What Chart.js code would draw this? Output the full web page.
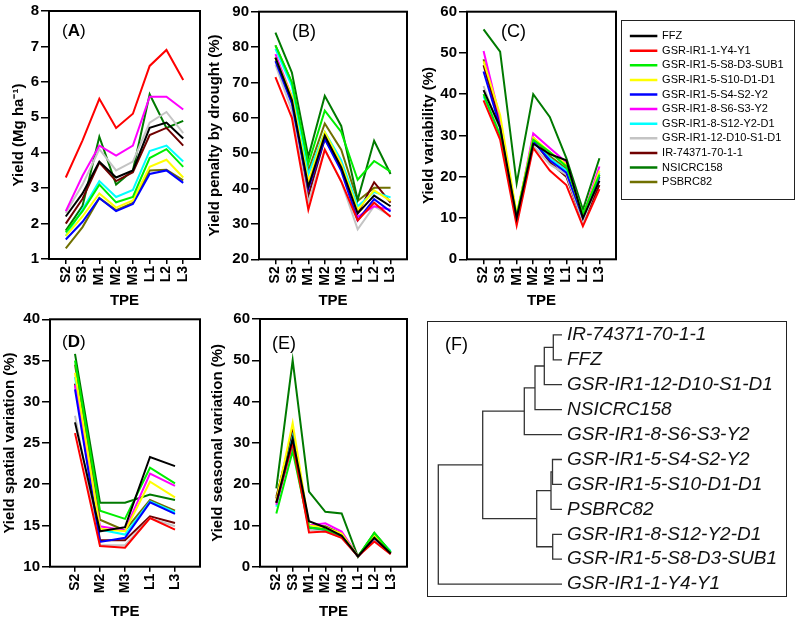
<!DOCTYPE html>
<html>
<head>
<meta charset="utf-8">
<script src="https://cdn.jsdelivr.net/npm/chart.js@4.4.1/dist/chart.umd.min.js"></script>
<style>
  body { margin: 0; background: #fff; width: 800px; height: 624px; position: relative; overflow: hidden; }
  canvas, .box { position: absolute; }
  .box { border: 1.5px solid #222; box-sizing: border-box; }
</style>
</head>
<body>
<div class="box" style="left:621px;top:20px;width:174px;height:180px"></div>
<div class="box" style="left:427px;top:321px;width:360px;height:276px"></div>
<canvas id="cA" style="left:0;top:0" width="205" height="310"></canvas>
<canvas id="cB" style="left:200px;top:0" width="212" height="310"></canvas>
<canvas id="cC" style="left:412px;top:0" width="209" height="310"></canvas>
<canvas id="cL" style="left:621px;top:20px" width="174" height="180"></canvas>
<canvas id="cD" style="left:0;top:305px" width="205" height="319"></canvas>
<canvas id="cE" style="left:205px;top:305px" width="207" height="319"></canvas>
<canvas id="cF" style="left:427px;top:305.6px" width="359" height="307"></canvas>
<script>
const FONT = "'Liberation Sans', Arial, sans-serif";

const genotypes = ['FFZ', 'GSR-IR1-1-Y4-Y1', 'GSR-IR1-5-S8-D3-SUB1', 'GSR-IR1-5-S10-D1-D1',
  'GSR-IR1-5-S4-S2-Y2', 'GSR-IR1-8-S6-S3-Y2', 'GSR-IR1-8-S12-Y2-D1', 'GSR-IR1-12-D10-S1-D1',
  'IR-74371-70-1-1', 'NSICRC158', 'PSBRC82'];
const colors = ['#000000', '#ff0000', '#00ee00', '#ffff00', '#0000ff', '#ff00ff',
  '#00ffff', '#c4c4c4', '#700000', '#007a00', '#707000'];

const tpeAll = ['S2', 'S3', 'M1', 'M2', 'M3', 'L1', 'L2', 'L3'];
const tpeSub = ['S2', 'M2', 'M3', 'L1', 'L3'];

// rows follow the genotypes order
const yieldA = [
  [2.2, 2.85, 3.75, 3.3, 3.5, 4.7, 4.85, 4.4],
  [3.3, 4.35, 5.52, 4.7, 5.1, 6.45, 6.9, 6.05],
  [1.75, 2.35, 3.1, 2.6, 2.75, 3.85, 4.1, 3.6],
  [1.65, 2.2, 2.85, 2.45, 2.65, 3.6, 3.8, 3.3],
  [1.55, 2.05, 2.72, 2.35, 2.55, 3.4, 3.5, 3.15],
  [2.35, 3.35, 4.2, 3.92, 4.2, 5.58, 5.58, 5.22],
  [1.65, 2.4, 3.2, 2.75, 2.95, 4.05, 4.2, 3.75],
  [2.3, 3.1, 4.1, 3.5, 3.75, 4.85, 5.15, 4.55],
  [2.0, 2.7, 3.72, 3.2, 3.45, 4.5, 4.7, 4.2],
  [1.8, 2.5, 4.45, 3.1, 3.5, 5.65, 4.7, 4.9],
  [1.3, 1.9, 2.72, 2.38, 2.58, 3.5, 3.52, 3.22]
];
const penaltyB = [
  [77, 65, 40.5, 55, 46, 33, 38, 35],
  [71.5, 60, 34, 51, 42, 31, 36, 32],
  [80.5, 70, 47, 62, 56, 42.5, 47.8, 44.8],
  [77, 66, 42, 56, 47, 34, 39.5, 36.5],
  [76, 64, 40, 54, 45, 31, 37, 33.5],
  [78, 66, 40, 55, 47, 32, 35, 34],
  [79.5, 69, 44, 56, 48, 35, 39, 37.5],
  [75, 62, 36, 51, 42, 28.5, 35, 32.3],
  [77, 65, 38, 54, 46, 33, 41.8, 36],
  [84.1, 72.8, 49, 66.2, 57.7, 36.8, 53.5, 44.1],
  [80.5, 70, 45, 58.4, 51, 36.5, 40.2, 40.2]
];
const variabilityC = [
  [41, 32, 10, 28, 25.5, 24, 10, 19],
  [38.5, 29, 8.2, 27, 21.5, 18, 8, 17],
  [40, 30, 10.5, 29, 26, 22.5, 11, 20.5],
  [48, 35, 11, 29.5, 26, 23, 10.5, 21.5],
  [45.5, 32, 10, 28.5, 24, 21, 10, 20],
  [50.5, 34, 10, 30.5, 27, 23.5, 10.5, 22.5],
  [39.5, 30, 10, 28.5, 24.5, 21.5, 10.5, 21],
  [42, 31, 9, 27.5, 23, 20.5, 9, 19.5],
  [47, 33, 9.5, 29, 23.5, 20, 9, 18],
  [55.7, 50.3, 18.4, 40, 34.5, 24.5, 12, 24.5],
  [48.5, 33, 10.5, 29.5, 25, 22, 10, 20.5]
];
const spatialD = [
  [27.5, 14.3, 14.8, 23.3, 22.2],
  [26.2, 12.5, 12.3, 15.9, 14.5],
  [35, 16.8, 15.8, 22, 20.1],
  [33.5, 14.6, 14.3, 20.3, 18.4],
  [31.5, 13.0, 13.5, 17.8, 16.4],
  [32, 14.9, 14.4, 21.3, 19.8],
  [33, 14.5, 13.9, 17.9, 16.6],
  [28.3, 12.6, 12.6, 15.9, 14.9],
  [32.2, 13.2, 13.2, 16.1, 15.3],
  [35.8, 17.75, 17.75, 18.75, 18.1],
  [34.5, 15.7, 14.4, 18.1, 16.8]
];
const seasonalE = [
  [15.5, 31, 11, 9.5, 7.5, 2.5, 7, 3.2],
  [15.5, 30, 8.3, 8.5, 7, 2.5, 6.1, 3],
  [12.9, 28, 9.5, 9, 7.5, 2.5, 8.2, 3.5],
  [16, 34.8, 10, 9.5, 8, 2.5, 7.5, 3.3],
  [15.5, 30.5, 9.5, 9, 7.5, 2.5, 7, 3.2],
  [15, 30, 10, 10.5, 8.5, 2.5, 7, 3.3],
  [14.5, 31.5, 10, 8.7, 7.2, 2.5, 7.5, 3.8],
  [15.5, 29, 9, 8.5, 7, 2.5, 6.5, 3],
  [16.5, 33.2, 9.5, 9.2, 7.8, 2.5, 7, 3.2],
  [19, 50, 18.2, 13.3, 12.9, 2.4, 8.2, 3.6],
  [17, 32, 10, 9.8, 8, 2.5, 7.5, 3.5]
];

// dendrogram (F): leaf order top to bottom, merges in hclust style
// negative = leaf (1-based), positive = earlier merge (1-based)
const leaves = ['IR-74371-70-1-1', 'FFZ', 'GSR-IR1-12-D10-S1-D1', 'NSICRC158', 'GSR-IR1-8-S6-S3-Y2',
  'GSR-IR1-5-S4-S2-Y2', 'GSR-IR1-5-S10-D1-D1', 'PSBRC82', 'GSR-IR1-8-S12-Y2-D1',
  'GSR-IR1-5-S8-D3-SUB1', 'GSR-IR1-1-Y4-Y1'];
const mergeA = [-1, 1, 2, 3, -6, 5, -9, 6, 4, 9];
const mergeB = [-2, -3, -4, -5, -7, -8, -10, 7, 8, -11];
const mergeHeight = [0.087, 0.177, 0.27, 0.377, 0.095, 0.11, 0.093, 0.253, 0.793, 1.237];

const frame = {
  id: 'frame',
  afterDraw(chart) {
    const a = chart.chartArea, ctx = chart.ctx;
    ctx.save();
    ctx.strokeStyle = '#000';
    ctx.lineWidth = 2;
    ctx.strokeRect(a.left, a.top, a.right - a.left, a.bottom - a.top);
    ctx.restore();
  }
};

const tag = {
  id: 'tag',
  afterDraw(chart, args, o) {
    if (!o.letter) return;
    const ctx = chart.ctx, a = chart.chartArea;
    let x = a.left + o.dx;
    const y = a.top + o.dy;
    ctx.save();
    ctx.fillStyle = '#000';
    ctx.textBaseline = 'middle';
    for (const [t, b] of [['(', false], [o.letter, o.bold], [')', false]]) {
      ctx.font = (b ? 'bold ' : '') + o.size + 'px ' + FONT;
      ctx.fillText(t, x, y);
      x += ctx.measureText(t).width;
    }
    ctx.restore();
  }
};

const boldFont = size => ({ family: FONT, size: size, weight: 'bold' });

function linePanel(id, cats, rows, cfg) {
  return new Chart(document.getElementById(id), {
    type: 'line',
    data: {
      datasets: rows.map((vals, i) => ({
        label: genotypes[i],
        data: vals.map((v, j) => ({ x: j, y: v })),
        borderColor: colors[i],
        backgroundColor: colors[i],
        borderWidth: 2,
        pointRadius: 0,
        tension: 0
      }))
    },
    options: {
      responsive: false,
      animation: false,
      layout: { padding: { top: cfg.top, right: 5, left: 0, bottom: 0 } },
      plugins: { legend: { display: false }, tooltip: { enabled: false }, tag: cfg.tag },
      scales: {
        x: {
          type: 'linear', min: -1, max: cats.length,
          afterBuildTicks: s => { s.ticks = cats.map((c, j) => ({ value: j })); },
          afterFit: s => { s.height = cfg.xh; },
          ticks: {
            callback: v => cats[v], autoSkip: false, minRotation: 90, maxRotation: 90,
            padding: 2, color: '#000', font: boldFont(14)
          },
          grid: { drawOnChartArea: false, tickLength: 5, color: '#000', lineWidth: 1.5 },
          border: { display: false },
          title: { display: true, text: 'TPE', color: '#000', font: boldFont(15),
                   padding: { top: 0, bottom: cfg.xpad } }
        },
        y: {
          min: cfg.min, max: cfg.max,
          afterFit: s => { s.width = cfg.yw; },
          ticks: { stepSize: cfg.step, padding: 2, color: '#000', font: boldFont(15) },
          grid: { drawOnChartArea: false, tickLength: 8, color: '#000', lineWidth: 1.5 },
          border: { display: false },
          title: { display: true, text: cfg.title, color: '#000', font: boldFont(15),
                   padding: { top: cfg.tpad, bottom: 0 } }
        }
      }
    },
    plugins: [frame, tag]
  });
}

linePanel('cA', tpeAll, yieldA, {
  min: 1, max: 8, step: 1, title: 'Yield (Mg ha\u207B\u00B9)', yw: 49, tpad: 10,
  top: 11, xh: 51, xpad: 0, tag: { letter: 'A', bold: true, size: 17, dx: 13, dy: 20.5 }
});
linePanel('cB', tpeAll, penaltyB, {
  min: 20, max: 90, step: 10, title: 'Yield penalty by drought (%)', yw: 59, tpad: 6,
  top: 11.7, xh: 50.7, xpad: 0, tag: { letter: 'B', bold: false, size: 18, dx: 33, dy: 20 }
});
linePanel('cC', tpeAll, variabilityC, {
  min: 0, max: 60, step: 10, title: 'Yield variability (%)', yw: 55, tpad: 8,
  top: 11.7, xh: 50.7, xpad: 0, tag: { letter: 'C', bold: false, size: 18, dx: 34, dy: 20 }
});
linePanel('cD', tpeSub, spatialD, {
  min: 10, max: 40, step: 5, title: 'Yield spatial variation (%)', yw: 50, tpad: 1,
  top: 14.3, xh: 57.3, xpad: 3.5, tag: { letter: 'D', bold: true, size: 17, dx: 12, dy: 23 }
});
linePanel('cE', tpeAll, seasonalE, {
  min: 0, max: 60, step: 10, title: 'Yield seasonal variation (%)', yw: 55, tpad: 4,
  top: 14, xh: 57.3, xpad: 3.5, tag: { letter: 'E', bold: false, size: 18, dx: 12, dy: 25 }
});

// legend box
new Chart(document.getElementById('cL'), {
  type: 'line',
  data: {
    datasets: genotypes.map((g, i) => ({
      label: g, data: [], borderColor: colors[i], backgroundColor: colors[i], borderWidth: 1.5
    }))
  },
  options: {
    responsive: false,
    animation: false,
    layout: { padding: { top: 7, left: 6, right: 0, bottom: 0 } },
    scales: { x: { display: false }, y: { display: false } },
    plugins: {
      tooltip: { enabled: false },
      legend: {
        position: 'top', align: 'start', maxHeight: 400,
        labels: { boxWidth: 26, boxHeight: 1, padding: 3.6, color: '#000',
                  font: { family: FONT, size: 11 } }
      }
    }
  }
});

// dendrogram
function nodePos(k) {
  if (k < 0) return { x: 0, y: -k - 1 };
  const a = nodePos(mergeA[k - 1]), b = nodePos(mergeB[k - 1]);
  return { x: mergeHeight[k - 1], y: (a.y + b.y) / 2 };
}
const treeSets = mergeA.map((_, i) => {
  const a = nodePos(mergeA[i]), b = nodePos(mergeB[i]), h = mergeHeight[i];
  return {
    data: [a, { x: h, y: a.y }, { x: h, y: b.y }, b],
    borderColor: '#333', borderWidth: 1.3, pointRadius: 0, tension: 0
  };
});

new Chart(document.getElementById('cF'), {
  type: 'line',
  data: { datasets: treeSets },
  options: {
    responsive: false,
    animation: false,
    layout: { padding: 0 },
    plugins: {
      legend: { display: false }, tooltip: { enabled: false },
      tag: { letter: 'F', bold: false, size: 18, dx: 18, dy: 22.5 }
    },
    scales: {
      x: { type: 'linear', reverse: true, min: 0, max: 1.35, display: false },
      y: {
        type: 'linear', position: 'right', reverse: true, min: -0.5, max: 10.5,
        afterBuildTicks: s => { s.ticks = leaves.map((n, i) => ({ value: i })); },
        afterFit: s => { s.width = 224; },
        ticks: { callback: v => leaves[v], autoSkip: false, padding: 5, color: '#111',
                 font: { family: FONT, size: 19, style: 'italic' } },
        grid: { display: false, drawTicks: false },
        border: { display: false }
      }
    }
  },
  plugins: [tag]
});
</script>
</body>
</html>
